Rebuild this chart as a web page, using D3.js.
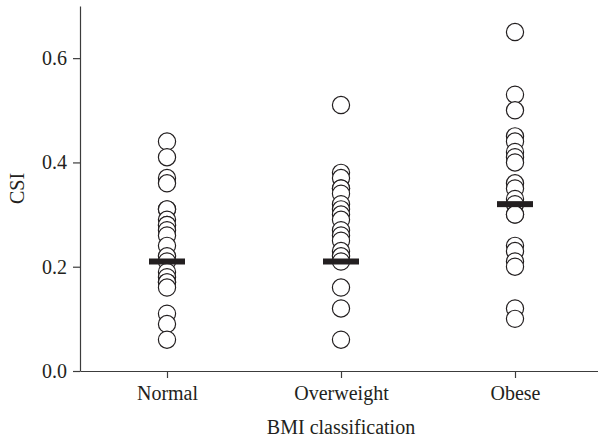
<!DOCTYPE html>
<html>
<head>
<meta charset="utf-8">
<script src="https://cdn.jsdelivr.net/npm/d3@7"></script>
<style>
  html, body { margin: 0; padding: 0; background: #fff; }
  svg { display: block; }
  svg text { font-family: "Liberation Serif", "Times New Roman", serif !important; fill: #231f20; font-size: 20px; }
</style>
</head>
<body>
<svg id="chart" width="598" height="439"></svg>
<script>
const categories = ["Normal", "Overweight", "Obese"];
const normalValues = [0.44, 0.41, 0.37, 0.36, 0.31, 0.31, 0.29, 0.28, 0.28, 0.27, 0.26, 0.24, 0.22, 0.21, 0.19, 0.18, 0.17, 0.17, 0.16, 0.11, 0.09, 0.06];
const overweightValues = [0.51, 0.38, 0.37, 0.35, 0.35, 0.34, 0.32, 0.31, 0.30, 0.29, 0.27, 0.26, 0.25, 0.23, 0.22, 0.21, 0.16, 0.12, 0.06];
const obeseValues = [0.65, 0.53, 0.50, 0.45, 0.44, 0.42, 0.41, 0.40, 0.36, 0.35, 0.33, 0.32, 0.30, 0.30, 0.24, 0.23, 0.21, 0.20, 0.12, 0.10];
const medians = [0.21, 0.21, 0.32];
const yTicks = [0.0, 0.2, 0.4, 0.6];
const yLabel = "CSI";
const xLabel = "BMI classification";

const seriesValues = [normalValues, overweightValues, obeseValues];

const svg = d3.select("#chart");
const x = d3.scalePoint().domain(categories).range([80, 602]).padding(0.5);
const y = d3.scaleLinear().domain([0, 0.7]).range([371, 6]);

const axisColor = "#3c3c3c";

// Y axis
const yAxis = svg.append("g")
  .attr("transform", "translate(80,0)")
  .call(d3.axisLeft(y).tickValues(yTicks).tickFormat(d3.format(".1f")).tickSize(7).tickPadding(6).tickSizeOuter(0))
  .attr("font-family", null).attr("font-size", null);
yAxis.select(".domain").attr("stroke", axisColor).attr("stroke-width", 1.2);
yAxis.selectAll(".tick line").attr("stroke", axisColor).attr("stroke-width", 1.2);
yAxis.selectAll(".tick text").attr("fill", "#231f20");

// X axis
const xAxis = svg.append("g")
  .attr("transform", "translate(0,371)")
  .call(d3.axisBottom(x).tickSize(7).tickPadding(8).tickSizeOuter(0))
  .attr("font-family", null).attr("font-size", null);
xAxis.select(".domain").attr("stroke", axisColor).attr("stroke-width", 1.2);
xAxis.selectAll(".tick line").attr("stroke", axisColor).attr("stroke-width", 1.2);
xAxis.selectAll(".tick text").attr("fill", "#231f20");

// Axis titles
svg.append("text")
  .attr("transform", "translate(24," + (y(0.35)) + ") rotate(-90)")
  .attr("text-anchor", "middle")
  .text(yLabel);

svg.append("text")
  .attr("x", x("Overweight"))
  .attr("y", 434)
  .attr("text-anchor", "middle")
  .text(xLabel);

// Points
const pts = [];
seriesValues.forEach((vals, i) => vals.forEach(v => pts.push({ cat: categories[i], v })));
svg.append("g").selectAll("circle")
  .data(pts)
  .join("circle")
  .attr("cx", d => x(d.cat))
  .attr("cy", d => y(d.v))
  .attr("r", 8.6)
  .attr("fill", "#ffffff")
  .attr("stroke", "#231f20")
  .attr("stroke-width", 1.2);

// Median bars
svg.append("g").selectAll("rect")
  .data(categories.map((c, i) => ({ cat: c, m: medians[i] })))
  .join("rect")
  .attr("x", d => x(d.cat) - 18)
  .attr("y", d => y(d.m) - 3)
  .attr("width", 36)
  .attr("height", 6)
  .attr("fill", "#231f20");
</script>
</body>
</html>
